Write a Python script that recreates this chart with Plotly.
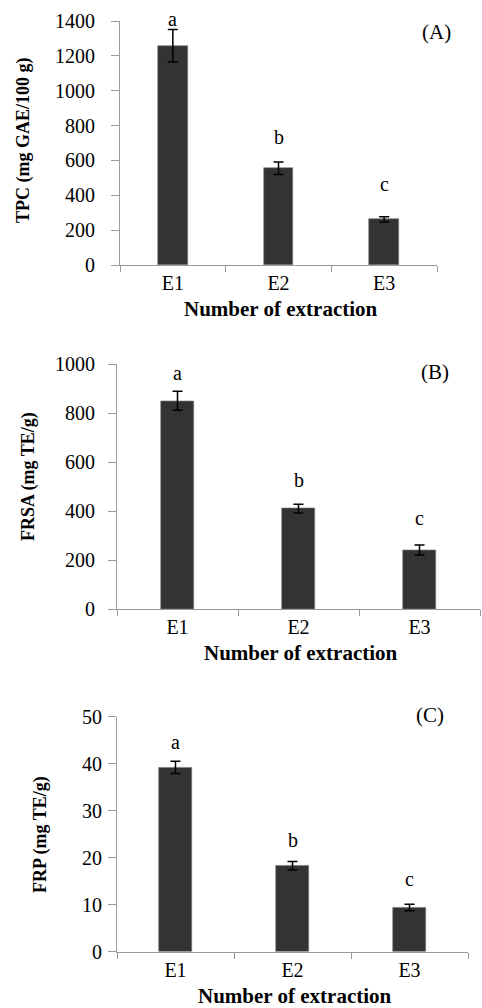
import plotly.graph_objects as go

categories = ["E1", "E2", "E3"]

tpc_mean = [1258, 555, 262]
tpc_err = [93, 36, 15]
tpc_letters = ["a", "b", "c"]
tpc_letter_y = [1394, 717, 448]

frsa_mean = [851, 411, 242]
frsa_err = [39, 18, 20]
frsa_letters = ["a", "b", "c"]
frsa_letter_y = [953, 515, 360]

frp_mean = [39.2, 18.3, 9.4]
frp_err = [1.3, 0.9, 0.7]
frp_letters = ["a", "b", "c"]
frp_letter_y = [44, 23.2, 14.9]

y_titles = ["TPC (mg GAE/100 g)", "FRSA (mg TE/g)", "FRP (mg TE/g)"]
x_title = "Number of extraction"
panel_tags = ["(A)", "(B)", "(C)"]
y_ranges = [[0, 1400], [0, 1000], [0, 50]]
y_dticks = [200, 200, 10]

W, H = 482, 1008
FONT = "Liberation Serif"
BAR = "#333333"
AX = "#9a9a9a"

# pixel geometry of each panel: (left, right, top, bottom)
panels = [(120, 437, 21, 265), (117, 480, 364.3, 609.3), (117, 468, 716.7, 951.7)]
ytitle_x = [24, 28, 40]
ytitle_y = [140, 477, 835]
xtitle_y = [309, 653, 996]
tag_x = [436, 435, 430]
tag_y = [32, 372, 715]
tick_standoff = [12, 9, 2]

data = [
    (tpc_mean, tpc_err, tpc_letters, tpc_letter_y),
    (frsa_mean, frsa_err, frsa_letters, frsa_letter_y),
    (frp_mean, frp_err, frp_letters, frp_letter_y),
]

fig = go.Figure()
annotations = []
for i, (mean, err, letters, ly) in enumerate(data):
    sfx = "" if i == 0 else str(i + 1)
    L, R, T, B = panels[i]
    fig.add_trace(go.Bar(
        x=categories, y=mean, width=0.28,
        marker=dict(color=BAR, line=dict(color="#7a7a7a", width=0.6)),
        error_y=dict(type="data", array=err, visible=True, color="black",
                     thickness=1.5, width=5),
        xaxis="x" + sfx, yaxis="y" + sfx, showlegend=False,
    ))
    fig.layout["xaxis" + sfx] = dict(
        domain=[L / W, R / W], anchor="y" + sfx, type="category",
        range=[-0.5, 2.5], tickson="boundaries", ticks="outside", ticklen=6,
        tickcolor=AX, showline=True, linecolor=AX, linewidth=1,
        showgrid=False, zeroline=False, automargin=False,
        tickfont=dict(family=FONT, size=20, color="black"),
        ticklabelstandoff=0,
    )
    fig.layout["yaxis" + sfx] = dict(
        domain=[1 - B / H, 1 - T / H], anchor="x" + sfx,
        range=y_ranges[i], dtick=y_dticks[i], ticks="outside", ticklen=8,
        tickcolor=AX, showline=True, linecolor=AX, linewidth=1,
        showgrid=False, zeroline=False, automargin=False,
        tickfont=dict(family=FONT, size=20, color="black"),
        ticklabelstandoff=tick_standoff[i],
    )
    for c, lt, yy in zip(categories, letters, ly):
        annotations.append(dict(
            x=c, y=yy, xref="x" + sfx, yref="y" + sfx, text=lt,
            xanchor="center", yanchor="middle", yshift=3,
            showarrow=False, font=dict(family=FONT, size=20, color="black"),
        ))
    annotations.append(dict(
        x=tag_x[i] / W, y=1 - tag_y[i] / H, xref="paper", yref="paper",
        text=panel_tags[i], showarrow=False, xanchor="center", yanchor="middle",
        font=dict(family=FONT, size=21, color="black"),
    ))
    annotations.append(dict(
        x=ytitle_x[i] / W, y=1 - ytitle_y[i] / H, xref="paper", yref="paper",
        text="<b>" + y_titles[i] + "</b>", textangle=-90, showarrow=False,
        xanchor="center", yanchor="middle",
        font=dict(family=FONT, size=18, color="black"),
    ))
    annotations.append(dict(
        x=(L + R) / 2 / W + 0.005, y=1 - xtitle_y[i] / H, xref="paper", yref="paper",
        text="<b>" + x_title + "</b>", showarrow=False,
        xanchor="center", yanchor="middle",
        font=dict(family=FONT, size=21, color="black"),
    ))

fig.update_layout(
    width=W, height=H, margin=dict(l=0, r=0, t=0, b=0),
    paper_bgcolor="white", plot_bgcolor="white",
    annotations=annotations, bargap=0,
)
fig.write_html("out.html", config={"displayModeBar": False},
               post_script="document.body.style.margin='0';document.body.style.overflow='hidden';")
